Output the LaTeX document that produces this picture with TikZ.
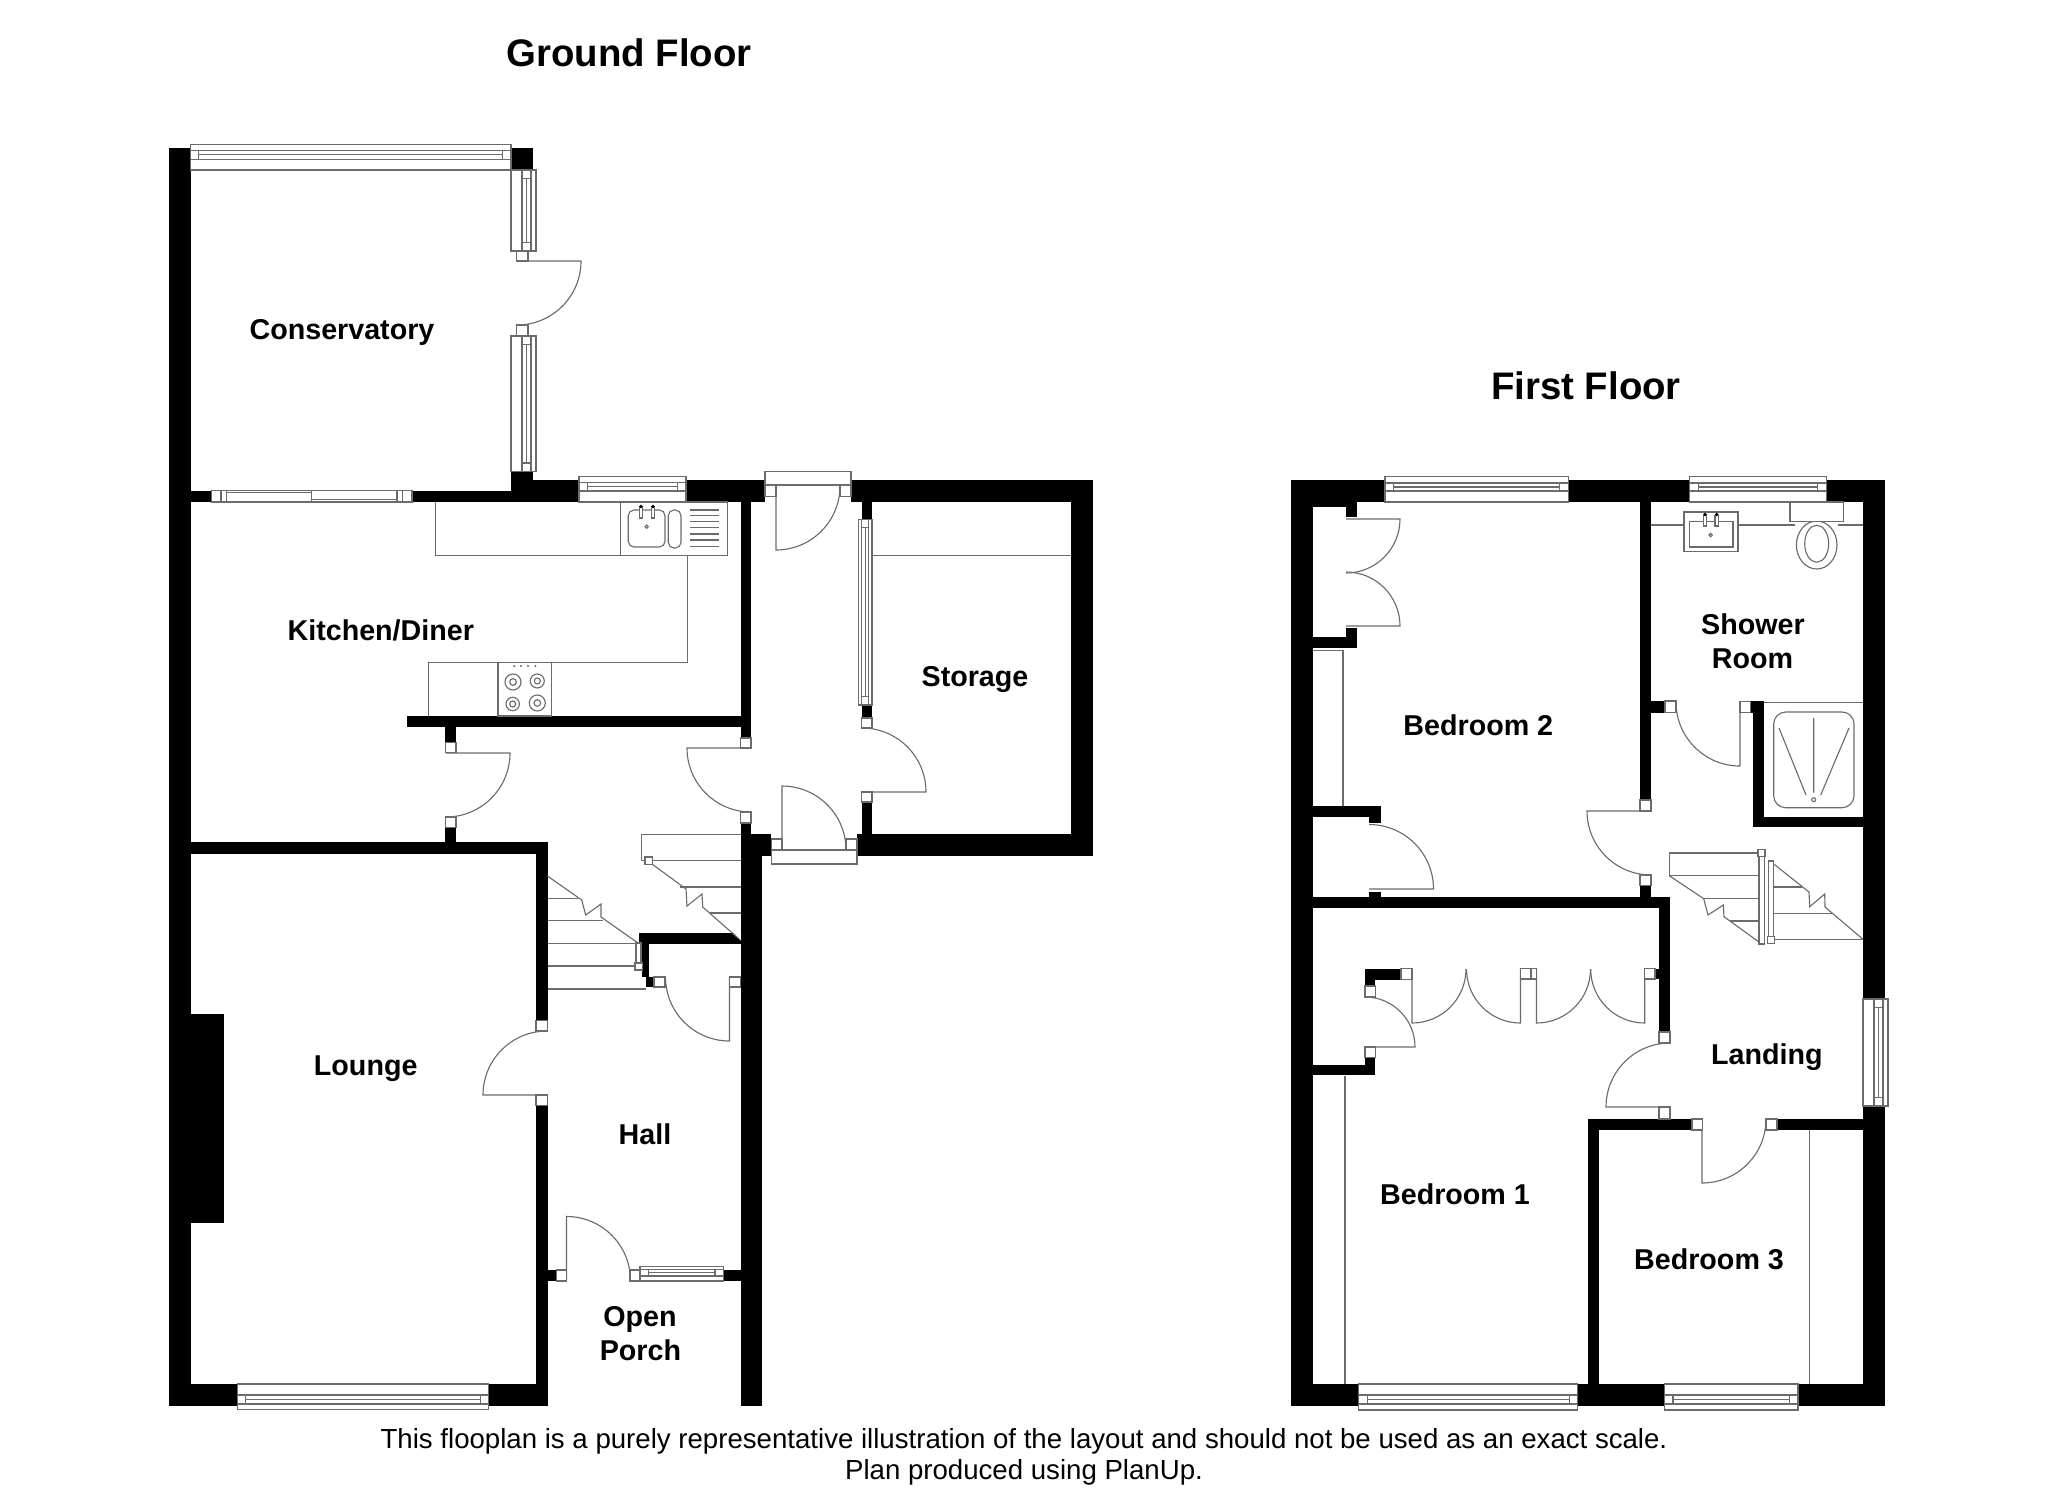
\documentclass[tikz,border=0pt]{standalone}
\usepackage{fontspec}
\setmainfont{Liberation Sans}
\tikzset{
  wall/.style={fill=black},
  fitting/.style={draw=black!58, line width=1.6pt, line join=miter},
  blank/.style={fitting, fill=white},
  roomlabel/.style={anchor=base, inner sep=0pt, font=\fontsize{40.8}{40.8}\selectfont\bfseries},
  floorlabel/.style={anchor=base, inner sep=0pt, font=\fontsize{54.6}{54.6}\selectfont\bfseries},
  footlabel/.style={anchor=base, inner sep=0pt, font=\fontsize{39.3}{39.3}\selectfont},
}
\begin{document}
\begin{tikzpicture}[x=0.05cm, y=-0.05cm]
    \useasboundingbox (0,0) rectangle (2048,1489);

    % walls
    \foreach \xa/\ya/\xb/\yb in {
      168.7/148/190.5/1406, 511/148/533/170, 511/471.5/533/502, 190/490.5/211.5/502, 412/490.5/579/502, 533/480/579/502,
      686/480/765/502, 740.7/502/751/738, 407/716/741/727.3, 445.3/727/456/742.3, 445.3/827.7/456/842.3,
      190/842.3/547.5/853.7, 536/842.3/547.5/1020.5, 536/1105.7/547.5/1406, 190/1384/237.3/1406, 488.7/1384/547.5/1406,
      190/1013.6/223.5/1222.5, 740.7/823/751/856, 740.7/834/771.3/856, 740.7/856/762/1406,
      851/480/1093/502, 1071.3/502/1093/856, 857/834/1071.3/856, 861.7/502/872/519, 861.7/705/872/718, 861.7/802/872/834,
      638.7/932.7/733/944, 733/941/741/944, 641.7/944/649/977, 646/977/654/987, 547.5/1270/556.7/1281, 723.5/1270/741/1281,
      1291.3/480/1313/1406, 1313/480/1385/502, 1568.3/480/1689.7/502, 1826.3/480/1885/502, 1863/502/1885/999, 1863/1106/1885/1406,
      1640/502/1651/800, 1640/885.7/1651/897, 1313/897/1670/908, 1659/897/1670/1032, 1655/968.7/1659/979,
      1313/502/1357/507, 1346/507/1357/517, 1346/628/1357/648, 1313/637/1357/648,
      1313/806/1380.7/817, 1369/817/1380.7/822.7, 1369/891.7/1380.7/897,
      1651/701/1665/712.7, 1750.7/701/1764.3/712.7, 1753.3/712.7/1764.3/827.3, 1753.3/816.7/1863/827.3,
      1588/1119/1692/1130, 1588/1130/1599/1406, 1777/1119/1863/1130,
      1313/1384/1358.7/1406, 1577.7/1384/1664.5/1406, 1798/1384/1863/1406,
      1365/968.7/1401/979.7, 1365/979.7/1375.3/986, 1365/1057.7/1375.3/1075.3, 1313/1064.7/1375.3/1075.3}
      \fill[wall] (\xa,\ya) rectangle (\xb,\yb);
    \fill[wall] (733,932.7) -- (741,941) -- (733,941) -- cycle;

    % windows
    \foreach \xa/\xb/\ya/\yb/\la/\lb in {
      190.3/511/144.5/170/150.3/159.3, 579/686/476.7/502/482.7/491, 237.3/488.7/1384/1409.7/1395/1404,
      640/723.5/1266.5/1281/1269.5/1276, 1385/1568.3/476.7/502/483/491, 1689.7/1826.3/476.7/502/483/491,
      1358.7/1577.7/1384/1410/1395/1404, 1664.5/1798/1384/1410/1395/1404} {
      \draw[blank] (\xa,\ya) rectangle (\xb,\yb);
      \draw[fitting] (\xa,\la) -- (\xb,\la) (\xa,\lb) -- (\xb,\lb);
      \draw[fitting] (\xa+8.5,\la) -- (\xa+8.5,\lb) (\xb-8.5,\la) -- (\xb-8.5,\lb) (\xa+8.5,{(\la+\lb)/2}) -- (\xb-8.5,{(\la+\lb)/2});
    }
    \foreach \ya/\yb/\xa/\xb/\la/\lb in {
      170/251/511/536/522/531, 336/471.5/511/536/522/531, 519.3/705/858.7/872/861.7/868.7, 999/1106/1863/1888/1874/1883} {
      \draw[blank] (\xa,\ya) rectangle (\xb,\yb);
      \draw[fitting] (\la,\ya) -- (\la,\yb) (\lb,\ya) -- (\lb,\yb);
      \draw[fitting] (\la,\ya+8.5) -- (\lb,\ya+8.5) (\la,\yb-8.5) -- (\lb,\yb-8.5) ({(\la+\lb)/2},\ya+8.5) -- ({(\la+\lb)/2},\yb-8.5);
    }
    \draw[blank] (211.5,490.5) rectangle (412,502);
    \foreach \x in {221,226.7,311.5,397,402.5} \draw[fitting] (\x,490.5) -- (\x,502);
    \draw[fitting] (226.7,492.5) -- (311.5,492.5) (311.5,499.7) -- (397,499.7);
    \draw[blank] (765,471.7) rectangle (851,485);
    \draw[blank] (771.3,850) rectangle (857,864);

    % doors
    \foreach \hx/\hy/\sa/\ea/\rad in {
      517/261/0/90/64, 776/486/90/0/64, 751/748/180/90/64, 862/792/0/-90/64, 782/850/-90/0/64, 446/753/0/90/64,
      547/1095/180/270/64, 729.5/977/90/180/64, 566.5/1280.5/-90/0/64,
      1651/811/180/90/64, 1740/702/90/180/64, 1346/519/0/90/54, 1346/626/0/-90/54, 1369/889/0/-90/64.5,
      1670/1107/180/270/64, 1702/1119/90/0/64, 1365/1047/0/-90/50,
      1412/969/90/0/54, 1520.5/969/90/180/54, 1536.5/969/90/0/54, 1644.7/969/90/180/54}
      \draw[fitting] (\hx,\hy) -- ++(\sa:\rad) arc[start angle=\sa, end angle=\ea, radius=\rad];
    \foreach \xa/\ya/\xb/\yb in {
      516.5/251/528/261, 516.5/325/528/336, 765/485/776/496.5, 840/485/851/496.5, 740.7/738/751/748, 740.7/812/751/823,
      861.7/718/872/728, 861.7/792/872/802, 771.3/839/782/850, 846/839/857/850, 445.3/742.3/456/752.7, 445.3/817/456/827.7,
      536/1020.5/547.5/1031, 536/1095/547.5/1105.7, 654/977/665/987, 729.5/977/740.7/987, 556.7/1270/566.7/1281, 630/1270/640/1281,
      1640/800/1651/811, 1640/875/1651/885.7, 1665/701/1676/712.5, 1740/701.5/1750.7/712.5, 1659/1032/1670/1043, 1659/1107/1670/1119,
      1692/1119/1702.6/1130, 1766/1119/1777/1130, 1401/968.7/1412/979.7, 1365/986/1375.3/997, 1365/1047/1375.3/1057.7,
      1520.7/968.7/1531/979, 1531/968.7/1536.3/979, 1644.7/968.7/1655/979}
      \draw[blank] (\xa,\ya) rectangle (\xb,\yb);

    % ground floor stairs
    \foreach \y/\x in {898.3/578, 920.7/603, 943.3/638, 966/638, 989/646} \draw[fitting] (547.5,\y) -- (\x,\y);
    \draw[fitting] (547.5,876) -- (581.7,900) -- (585.7,915) -- (601,904) -- (601,917) -- (638,943);
    \draw[blank] (636,943) rectangle (641,966);
    \draw[blank] (635,963) rectangle (642.7,970);
    \draw[fitting] (641.3,860.7) -- (641.3,834.3) -- (740.7,834.3) (641.3,860.7) -- (740.7,860.7);
    \draw[fitting] (680,887) -- (740.7,887) (710,913) -- (740.7,913);
    \draw[fitting] (652,864) -- (686,889) -- (687,906) -- (702,894) -- (702.7,907) -- (738,938);
    \draw[blank] (645,857) rectangle (652.7,864.7);

    % first floor stairs
    \draw[fitting] (1758,853) -- (1669.3,853) -- (1669.3,875.7) -- (1759,875.7) (1703.7,898.7) -- (1759,898.7) (1730,921) -- (1759,921);
    \draw[fitting] (1669.3,875.7) -- (1703.7,898.7) -- (1708,915) -- (1723.3,905) -- (1724,916.7) -- (1759,942);
    \draw[blank] (1759,856.7) rectangle (1764.3,944);
    \draw[blank] (1758,849.7) rectangle (1765,856.7);
    \draw[blank] (1768.3,861) rectangle (1773.7,943);
    \draw[fitting] (1773.7,887) -- (1802,887) (1773.7,913.7) -- (1832,913.7) (1773.7,939.3) -- (1863,939.3);
    \draw[fitting] (1773.7,864) -- (1809,892) -- (1809.7,906.7) -- (1824.7,894) -- (1825,907) -- (1863,939.3);
    \draw[blank] (1767.7,936.7) rectangle (1774.7,943.7);

    % kitchen units
    \draw[fitting] (435.7,502) -- (435.7,555.3) -- (620.3,555.3);
    \draw[fitting] (620.3,502) rectangle (727.3,555.5);
    \draw[fitting] (687.3,555.5) -- (687.3,662.7) -- (428.7,662.7) -- (428.7,716);
    \draw[fitting] (498,662.7) rectangle (551.7,716);
    \foreach \x in {514.3,521,528,535.3} \fill[black!58] (\x,666) circle[radius=1.2];
    \foreach \x/\y/\ra/\rb in {513/682/8/3.3, 537.3/681/7/3, 512.7/704/6.7/3, 537.3/703/8/3.3}
      \draw[fitting] (\x,\y) circle[radius=\ra] (\x,\y) circle[radius=\rb];
    \draw[fitting, rounded corners=8pt] (628.3,510) rectangle (665,547);
    \draw[fitting, rounded corners=8pt] (668.3,510) rectangle (681,548);
    \foreach \x in {641,653} {
      \draw[blank] (\x-1.7,507) rectangle (\x+1.7,518);
      \fill[black] (\x,506.5) circle[radius=1.8];
    }
    \draw[fitting] (646.7,526.7) circle[radius=1.7];
    \foreach \y in {510,515.7,521.7,527.7,534,540,546.7} \draw[fitting] (689.7,\y) -- (719,\y);
    \draw[fitting] (872,555.3) -- (1071.3,555.3);

    % bedroom cupboards
    \draw[fitting] (1313,650.7) -- (1343,650.7) -- (1343,806);
    \draw[fitting] (1345,1076) -- (1345,1384);
    \draw[fitting] (1809.4,1130) -- (1809.4,1384);

    % shower room
    \draw[fitting] (1651,525) -- (1684,525) (1738,525) -- (1795,525) (1838,525) -- (1863,525);
    \draw[fitting] (1684,512) rectangle (1738,551.7);
    \draw[fitting] (1689.3,521.7) rectangle (1733,547);
    \foreach \x in {1705,1716.7} {
      \draw[blank] (\x-1.7,515.5) rectangle (\x+1.7,526);
      \fill[black] (\x,514.5) circle[radius=1.8];
    }
    \draw[fitting] (1710.7,535) circle[radius=1.7];
    \draw[blank] (1816.7,545) ellipse[x radius=20.3, y radius=24];
    \draw[fitting] (1816.7,543.7) ellipse[x radius=12, y radius=18.5];
    \draw[blank] (1790,502) rectangle (1843.7,521.7);
    \draw[fitting] (1764.3,702.3) -- (1863,702.3);
    \draw[fitting, rounded corners=17pt] (1773.7,712) rectangle (1854,807.7);
    \draw[fitting] (1813.7,718) -- (1813.7,792.7) (1779,728) -- (1806,795) (1849,728) -- (1820.7,795);
    \draw[fitting] (1813.7,799.7) circle[radius=2];

    % labels
    \node[floorlabel] (groundfloor) at (629,66) {Ground Floor};
    \node[floorlabel] (firstfloor) at (1586,399) {First Floor};
    \node[roomlabel] (conservatory) at (342,339) {Conservatory};
    \node[roomlabel] (kitchen) at (380.8,640.7) {Kitchen/Diner};
    \node[roomlabel] (storage) at (975,686) {Storage};
    \node[roomlabel] (lounge) at (365.7,1075) {Lounge};
    \node[roomlabel] (hall) at (645,1144) {Hall};
    \node[roomlabel] (open) at (640,1326) {Open};
    \node[roomlabel] (porch) at (640.4,1360) {Porch};
    \node[roomlabel] (bedroomtwo) at (1478.3,735) {Bedroom 2};
    \node[roomlabel] (shower) at (1753,634.3) {Shower};
    \node[roomlabel] (showerroom) at (1752.5,668.3) {Room};
    \node[roomlabel] (landing) at (1766.8,1064.3) {Landing};
    \node[roomlabel] (bedroomone) at (1455,1204) {Bedroom 1};
    \node[roomlabel] (bedroomthree) at (1709,1269) {Bedroom 3};
    \node[footlabel] (footone) at (1024,1448) {This flooplan is a purely representative illustration of the layout and should not be used as an exact scale.};
    \node[footlabel] (foottwo) at (1024,1479) {Plan produced using PlanUp.};
\end{tikzpicture}
\end{document}
